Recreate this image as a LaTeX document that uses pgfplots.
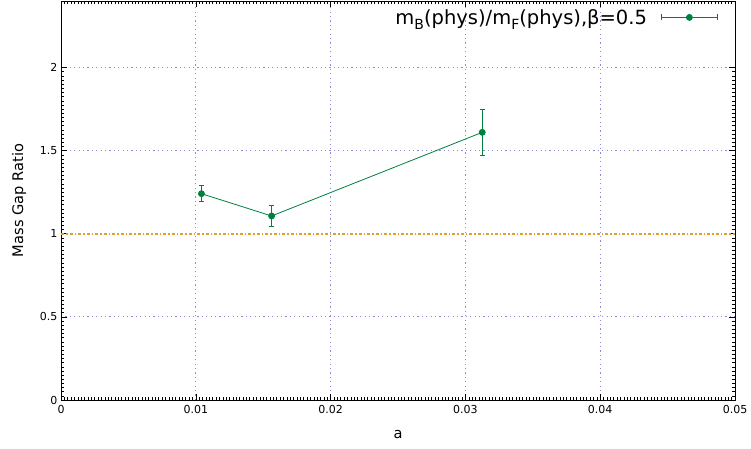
\documentclass[border=0pt]{standalone}
\usepackage{pgfplots}
\pgfplotsset{compat=1.18}
\usepackage{fontspec}
\setmainfont{DejaVu Sans}
\definecolor{lgreen}{RGB}{0,128,62}
\definecolor{gridblue}{RGB}{140,140,215}
\definecolor{goldline}{RGB}{225,160,40}
\newcommand{\sub}[1]{\raisebox{-0.25em}{\fontsize{14}{14}\selectfont #1}}
\begin{document}
\begin{tikzpicture}
\path[use as bounding box] (-61pt,-48pt) rectangle (690pt,400pt);
\begin{axis}[
  at={(0pt,0pt)}, anchor=south west,
  scale only axis, width=674pt, height=399pt,
  xmin=0, xmax=0.05, ymin=0, ymax=2.4,
  scaled x ticks=false, scaled y ticks=false,
  xtick={0,0.01,0.02,0.03,0.04,0.05},
  xticklabels={0,0.01,0.02,0.03,0.04,0.05},
  ytick={0,0.5,1,1.5,2},
  yticklabels={0,0.5,1,1.5,2},
  minor x tick num=39,
  minor y tick num=19,
  major tick length=6pt, minor tick length=3pt,
  tick style={black, line width=0.6pt},
  minor tick style={black, line width=0.5pt},
  xmajorgrids, ymajorgrids,
  major grid style={gridblue, line width=0.8pt, dash pattern=on 1.2pt off 3.2pt},
  axis line style={black, line width=1pt},
  ticklabel style={font=\fontsize{11}{13}\selectfont},
  xticklabel style={yshift=-2pt},
  /pgf/number format/assume math mode=true,
  xlabel={a}, ylabel={Mass Gap Ratio},
  label style={font=\fontsize{14.6}{16}\selectfont},
  xlabel style={yshift=-10pt},
  ylabel style={yshift=7pt},
  legend plot pos=right,
  legend style={at={(rel axis cs:1,1)}, anchor=north east, draw=none, fill=none,
    font=\fontsize{19.5}{22}\selectfont, xshift=-14pt, yshift=-4pt},
  legend image code/.code={%
    \draw[lgreen, line width=0.8pt] (0pt,0pt) -- (56pt,0pt);
    \draw[lgreen, line width=0.8pt] (0pt,-3pt) -- (0pt,3pt);
    \draw[lgreen, line width=0.8pt] (56pt,-3pt) -- (56pt,3pt);
    \fill[lgreen] (28pt,0pt) circle (3pt);
  },
]
\addplot[white, solid, line width=2.4pt, forget plot]
  table[x=x, y=y] {
    x       y
    0.0004  1
    0.0496  1
  };
\addplot[goldline, line width=1.5pt, dashdotted, forget plot]
  table[x=x, y=y] {
    x     y
    0     1
    0.05  1
  };
\addplot[lgreen, line width=0.8pt, mark=*, mark size=3pt,
  error bars/.cd, y dir=both, y explicit,
  error bar style={lgreen, line width=0.8pt},
  error mark options={rotate=90, mark size=2.4pt, lgreen, line width=0.8pt}]
  table[x=x, y=y, y error=e] {
    x        y      e
    0.010417 1.241  0.049
    0.015625 1.107  0.063
    0.03125  1.610  0.139
  };
\addlegendentry{m\sub{B}(phys)/m\sub{F}(phys),β=0.5\kern12pt}
\end{axis}
\end{tikzpicture}
\end{document}
